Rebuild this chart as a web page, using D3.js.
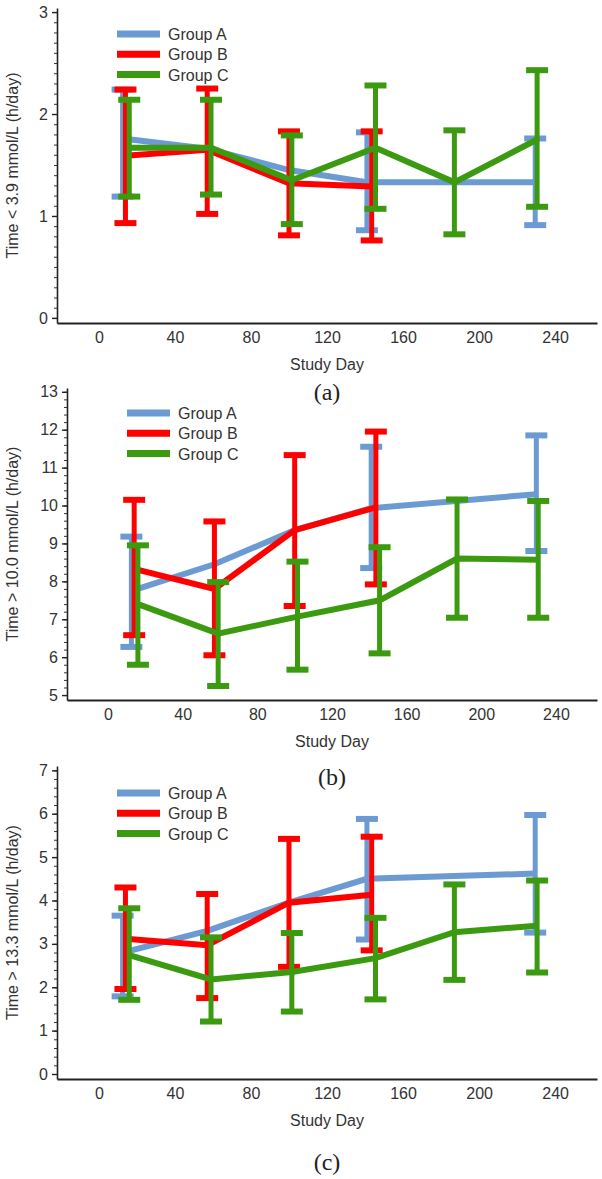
<!DOCTYPE html>
<html>
<head>
<meta charset="utf-8">
<script src="https://cdn.jsdelivr.net/npm/d3@7"></script>
<style>
    body { margin: 0; background: #fff; }
    svg { display: block; }
</style>
</head>
<body>
<svg id="vis" width="602" height="1179"></svg>
<script>

var groups = ["Group A", "Group B", "Group C"];
var colours = ["#6b9bd2", "#ff0000", "#3b9a10"];
var xTicks = [0, 40, 80, 120, 160, 200, 240];

// study day of each visit (groups are dodged a bit in the figure)
var daysA = [12.5, 57, 100, 141, 229.5];
var daysB = [14, 57, 100, 143.5];
var daysC = [16, 59, 101.5, 145.5, 187, 230.5];

// (a) time < 3.9 mmol/L
var lowMeanA = [1.76, 1.66, 1.45, 1.33, 1.33];
var lowLoA   = [1.19, null, null, 0.86, 0.91];
var lowHiA   = [2.24, null, null, 1.82, 1.76];
var lowMeanB = [1.59, 1.65, 1.32, 1.29];
var lowLoB   = [0.93, 1.02, 0.81, 0.76];
var lowHiB   = [2.24, 2.25, 1.83, 1.83];
var lowMeanC = [1.67, 1.67, 1.35, 1.67, 1.33, 1.75];
var lowLoC   = [1.19, 1.21, 0.92, 1.07, 0.82, 1.09];
var lowHiC   = [2.14, 2.14, 1.79, 2.28, 1.84, 2.43];

// (b) time > 10.0 mmol/L
var midMeanA = [7.75, 8.45, 9.35, 9.93, 10.3];
var midLoA   = [6.27, null, null, 8.35, 8.8];
var midHiA   = [9.18, null, null, 11.55, 11.85];
var midMeanB = [8.33, 7.8, 9.35, 9.95];
var midLoB   = [6.58, 6.05, 7.35, 7.92];
var midHiB   = [10.15, 9.58, 11.33, 11.95];
var midMeanC = [7.4, 6.62, 7.07, 7.5, 8.6, 8.57];
var midLoC   = [5.8, 5.24, 5.67, 6.1, 7.04, 7.04];
var midHiC   = [8.95, 7.98, 8.52, 8.9, 10.16, 10.12];

// (c) time > 13.3 mmol/L
var highMeanA = [2.8, 3.3, 3.95, 4.5, 4.62];
var highLoA   = [1.79, null, null, 3.1, 3.26];
var highHiA   = [3.65, null, null, 5.88, 5.97];
var highMeanB = [3.12, 2.97, 3.95, 4.13];
var highLoB   = [1.96, 1.75, 2.47, 2.85];
var highHiB   = [4.3, 4.15, 5.42, 5.47];
var highMeanC = [2.74, 2.18, 2.35, 2.67, 3.27, 3.42];
var highLoC   = [1.71, 1.21, 1.44, 1.72, 2.17, 2.34];
var highHiC   = [3.82, 3.15, 3.25, 3.6, 4.37, 4.46];

var font = "'Liberation Sans', Arial, sans-serif";
var textCol = "#333";

function makeSeries(days, mean, lo, hi) {
    return days.map(function(d, i) {
        return {day: d, mean: mean[i], lo: lo[i], hi: hi[i]};
    });
}

function drawPanel(svg, p) {
    var x = d3.scaleLinear().domain([-22, 262]).range([p.left, p.right]);
    var y = d3.scaleLinear().domain(p.yDomain).range([p.bottom, p.top]);

    var g = svg.append("g");

    // minor ticks on y
    var nMinor = Math.round((p.yTicks[p.yTicks.length - 1] - p.yTicks[0]) / p.minor);
    var minorVals = d3.range(nMinor + 1).map(function(i) { return p.yTicks[0] + i * p.minor; });
    g.append("g")
        .attr("transform", "translate(" + p.left + ",0)")
        .call(d3.axisLeft(y).tickValues(minorVals).tickSize(3).tickSizeOuter(0).tickFormat(""))
        .call(function(s) { s.select(".domain").remove(); })
        .selectAll("line").attr("stroke", "#333").attr("stroke-width", 1);

    var yAxis = g.append("g")
        .attr("transform", "translate(" + p.left + ",0)")
        .call(d3.axisLeft(y).tickValues(p.yTicks).tickFormat(d3.format("d"))
            .tickSize(5).tickSizeOuter(0).tickPadding(4));
    yAxis.select(".domain").attr("stroke", "#222").attr("stroke-width", 1.6);
    yAxis.selectAll("line").attr("stroke", "#222").attr("stroke-width", 1.4);
    yAxis.selectAll("text").attr("font-size", 16).attr("font-family", font).attr("fill", textCol);

    var xAxis = g.append("g")
        .attr("transform", "translate(0," + p.bottom + ")")
        .call(d3.axisBottom(x).tickValues(xTicks).tickSize(0).tickSizeOuter(0).tickPadding(9));
    xAxis.select(".domain").attr("stroke", "#222").attr("stroke-width", 2);
    xAxis.selectAll("text").attr("font-size", 16).attr("font-family", font).attr("fill", textCol);

    g.append("text")
        .attr("x", (p.left + p.right) / 2)
        .attr("y", p.bottom + 47)
        .attr("text-anchor", "middle")
        .attr("font-size", 16).attr("font-family", font).attr("fill", textCol)
        .text("Study Day");

    g.append("text")
        .attr("transform", "translate(18," + ((p.top + p.bottom) / 2) + ") rotate(-90)")
        .attr("text-anchor", "middle")
        .attr("font-size", 16).attr("font-family", font).attr("fill", textCol)
        .text(p.yTitle);

    g.append("text")
        .attr("x", (p.left + p.right) / 2)
        .attr("y", p.bottom + p.capOffset)
        .attr("text-anchor", "middle")
        .attr("font-size", 24).attr("font-family", "'Liberation Serif', 'Times New Roman', serif")
        .attr("fill", "#222")
        .text(p.caption);

    var line = d3.line()
        .x(function(d) { return x(d.day); })
        .y(function(d) { return y(d.mean); });

    p.series.forEach(function(s, i) {
        var sg = g.append("g").attr("stroke", colours[i]).attr("fill", "none");
        var withBars = s.filter(function(d) { return d.lo != null; });

        sg.selectAll(".stem")
            .data(withBars)
            .enter()
            .append("line")
            .attr("x1", function(d) { return x(d.day); })
            .attr("x2", function(d) { return x(d.day); })
            .attr("y1", function(d) { return y(d.lo); })
            .attr("y2", function(d) { return y(d.hi); })
            .attr("stroke-width", 5);

        var caps = [];
        withBars.forEach(function(d) {
            caps.push({day: d.day, v: d.lo});
            caps.push({day: d.day, v: d.hi});
        });
        sg.selectAll(".cap")
            .data(caps)
            .enter()
            .append("line")
            .attr("x1", function(d) { return x(d.day) - 11; })
            .attr("x2", function(d) { return x(d.day) + 11; })
            .attr("y1", function(d) { return y(d.v); })
            .attr("y2", function(d) { return y(d.v); })
            .attr("stroke-width", 6);

        sg.append("path")
            .attr("d", line(s))
            .attr("stroke-width", 6);
    });

    // legend
    var key = g.append("g").attr("transform", "translate(" + p.legend[0] + "," + p.legend[1] + ")");
    groups.forEach(function(name, i) {
        key.append("line")
            .attr("x1", 0).attr("x2", 43)
            .attr("y1", i * 20.3).attr("y2", i * 20.3)
            .attr("stroke", colours[i]).attr("stroke-width", 7);
        key.append("text")
            .attr("x", 51).attr("y", i * 20.3 + 6)
            .attr("font-size", 16).attr("font-family", font).attr("fill", textCol)
            .text(name);
    });
}

var svg = d3.select("#vis");
svg.append("rect").attr("width", 602).attr("height", 1179).attr("fill", "#fff");

drawPanel(svg, {
    left: 57, right: 597, top: 8, bottom: 323,
    yDomain: [-0.05, 3.04], yTicks: [0, 1, 2, 3], minor: 0.1,
    yTitle: "Time < 3.9 mmol/L (h/day)", caption: "(a)", capOffset: 77,
    legend: [117, 34],
    series: [
        makeSeries(daysA, lowMeanA, lowLoA, lowHiA),
        makeSeries(daysB, lowMeanB, lowLoB, lowHiB),
        makeSeries(daysC, lowMeanC, lowLoC, lowHiC)
    ]
});

drawPanel(svg, {
    left: 67, right: 597, top: 388, bottom: 700,
    yDomain: [4.87, 13.1], yTicks: [5, 6, 7, 8, 9, 10, 11, 12, 13], minor: 0.2,
    yTitle: "Time > 10.0 mmol/L (h/day)", caption: "(b)", capOffset: 85,
    legend: [127, 413],
    series: [
        makeSeries(daysA, midMeanA, midLoA, midHiA),
        makeSeries(daysB, midMeanB, midLoB, midHiB),
        makeSeries(daysC, midMeanC, midLoC, midHiC)
    ]
});

drawPanel(svg, {
    left: 57, right: 597, top: 766, bottom: 1079,
    yDomain: [-0.115, 7.1], yTicks: [0, 1, 2, 3, 4, 5, 6, 7], minor: 0.2,
    yTitle: "Time > 13.3 mmol/L (h/day)", caption: "(c)", capOffset: 91,
    legend: [117, 793],
    series: [
        makeSeries(daysA, highMeanA, highLoA, highHiA),
        makeSeries(daysB, highMeanB, highLoB, highHiB),
        makeSeries(daysC, highMeanC, highLoC, highHiC)
    ]
});

</script>
</body>
</html>
